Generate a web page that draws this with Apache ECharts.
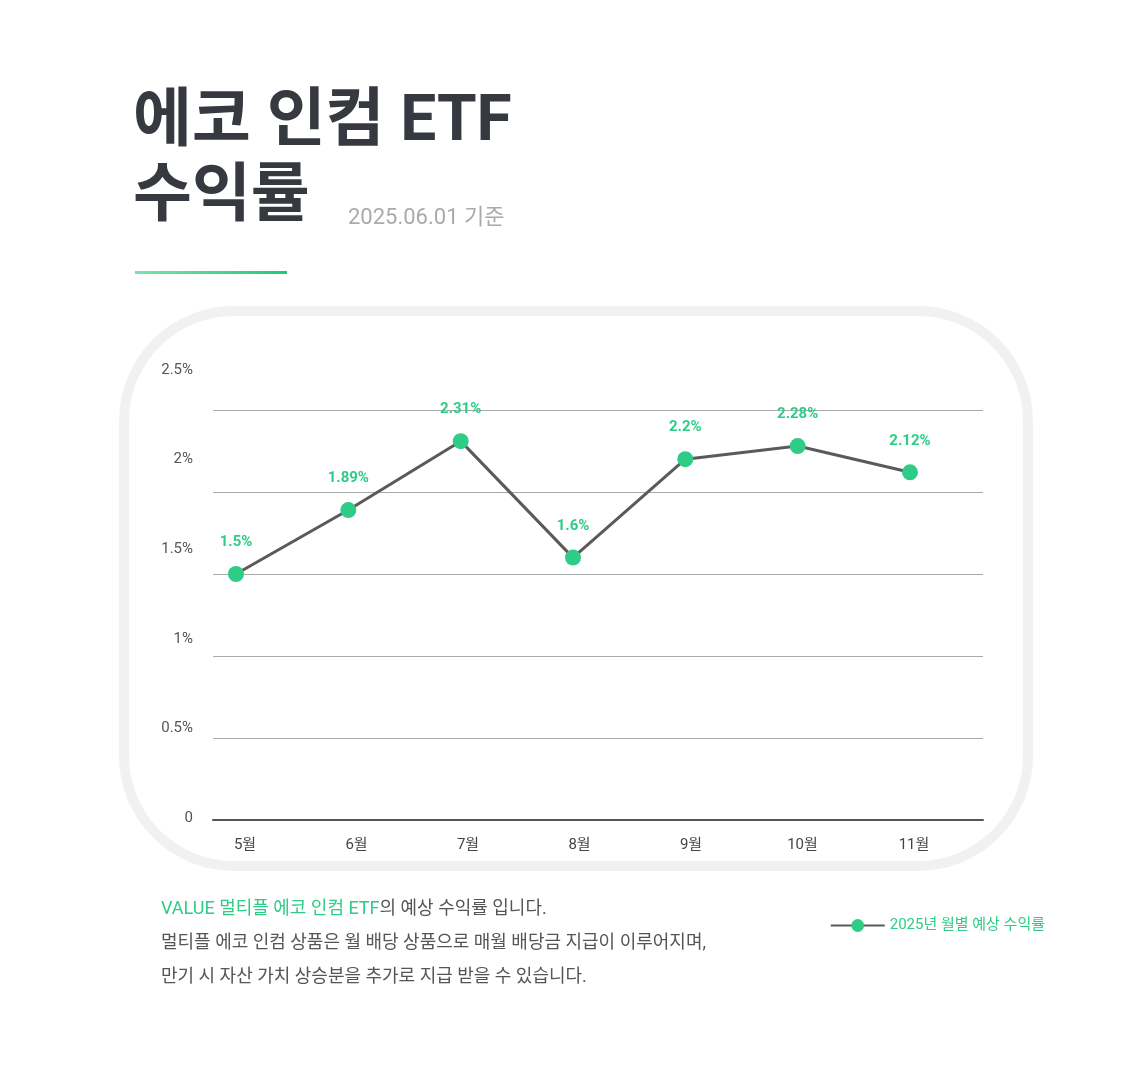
<!DOCTYPE html>
<html>
<head>
<meta charset="utf-8">
<script src="https://cdn.jsdelivr.net/npm/echarts@6/dist/echarts.min.js"></script>
<style>body{margin:0;background:#fff}</style>
</head>
<body>
<div id="main" style="width:1148px;height:1080px;"></div>
<script type="text/javascript">
    var months = ['5월', '6월', '7월', '8월', '9월', '10월', '11월'];
    var yields = [1.5, 1.89, 2.31, 1.6, 2.2, 2.28, 2.12];
    var yTicks = ['0', '0.5%', '1%', '1.5%', '2%', '2.5%'];
    var seriesName = '2025년 월별 예상 수익률';

    var font = 'Roboto, "Noto Sans CJK KR", sans-serif';
    var green = '#2ecc87';
    var myChart = echarts.init(document.getElementById('main'));

    var option = {
        backgroundColor: '#fff',
        textStyle: { fontFamily: font },
        legend: {
            right: 98, top: 913,
            itemWidth: 54, itemHeight: 16,
            textStyle: { color: green, fontSize: 15, fontFamily: font },
            data: [seriesName]
        },
        grid: [
            { left: 213, right: 165, top: 410, bottom: 260 },
            { left: 236, right: 238, top: 410, bottom: 260 },
            { left: 245, right: 234, top: 370, bottom: 262 }
        ],
        xAxis: [
            { gridIndex: 0, type: 'category', data: months, axisLabel: { show: false }, axisTick: { show: false },
              axisLine: { lineStyle: { color: '#555', width: 2 } } },
            { gridIndex: 1, type: 'category', data: months, boundaryGap: false, show: false },
            { gridIndex: 2, type: 'category', data: months, boundaryGap: false,
              axisLine: { show: false }, axisTick: { show: false },
              axisLabel: { color: '#444', fontSize: 15, margin: 20 } }
        ],
        yAxis: [
            { gridIndex: 0, type: 'value', min: 0, max: 2.5, interval: 0.5,
              axisLabel: { show: false }, splitLine: { lineStyle: { color: '#aaa' } } },
            { gridIndex: 1, type: 'value', min: 0, max: 2.5, interval: 0.5, show: false },
            { gridIndex: 2, type: 'value', min: 0, max: 2.5, interval: 0.5, splitLine: { show: false },
              axisLabel: { color: '#555', fontSize: 15, margin: 52, formatter: function (v) { return yTicks[Math.round(v * 2)]; } } }
        ],
        series: [{
            name: seriesName,
            type: 'line',
            xAxisIndex: 1, yAxisIndex: 1,
            data: yields,
            symbol: 'circle', symbolSize: 16,
            lineStyle: { color: '#5a5a5a', width: 3 },
            itemStyle: { color: green },
            label: { show: true, position: 'top', distance: 16, color: green, fontSize: 15, fontWeight: 'bold',
                     formatter: function (p) { return p.value + '%'; } }
        }],
        graphic: [
            { type: 'rect', z: -1, shape: { x: 124, y: 311, width: 904, height: 555, r: 110 },
              style: { fill: 'none', stroke: '#f1f1f1', lineWidth: 10 } },
            { type: 'text', left: 133, top: 92, style: { text: '에코 인컴 ETF', font: 'bold 64px ' + font, fill: '#363a40' } },
            { type: 'text', left: 133, top: 167, style: { text: '수익률', font: 'bold 64px ' + font, fill: '#363a40' } },
            { type: 'text', left: 348, top: 207, style: { text: '2025.06.01 기준', font: '22px ' + font, fill: '#aaa' } },
            { type: 'rect', shape: { x: 135, y: 271, width: 152, height: 3 },
              style: { fill: new echarts.graphic.LinearGradient(0, 0, 1, 0, [{ offset: 0, color: '#7de0b0' }, { offset: 1, color: '#1ec980' }]) } },
            { type: 'text', left: 161, top: 892, style: {
                text: '{g|VALUE 멀티플 에코 인컴 ETF}{d|의 예상 수익률 입니다.}\n{d|멀티플 에코 인컴 상품은 월 배당 상품으로 매월 배당금 지급이 이루어지며,}\n{d|만기 시 자산 가치 상승분을 추가로 지급 받을 수 있습니다.}',
                lineHeight: 34,
                rich: {
                    g: { fill: green, font: '18px ' + font, lineHeight: 34 },
                    d: { fill: '#555', font: '18px ' + font, lineHeight: 34 }
                } } }
        ]
    };
    myChart.setOption(option);
</script>
</body>
</html>
